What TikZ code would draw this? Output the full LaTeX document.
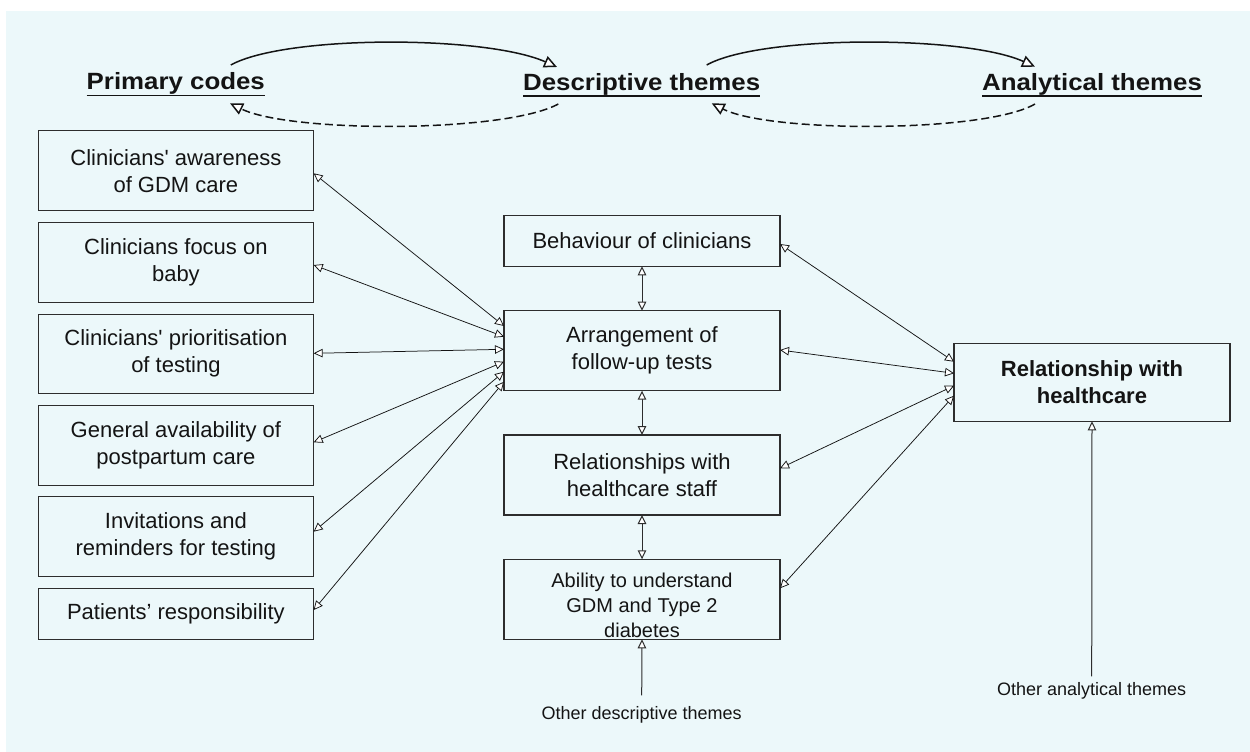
\documentclass[tikz,border=0pt]{standalone}
\usepackage{fontspec}
\setmainfont{Liberation Sans}
\usepackage{graphicx}
\usetikzlibrary{arrows.meta,calc}
\definecolor{bgc}{RGB}{236,248,250}
\definecolor{boxc}{RGB}{45,45,45}
\definecolor{inkc}{RGB}{20,20,20}
\begin{document}
\begin{tikzpicture}[x=1pt,y=-1pt,
  box/.style={draw=boxc, line width=1.1pt, inner sep=0pt, outer sep=0pt,
    minimum width=275.5pt, minimum height=80pt, align=center,
    font=\fontsize{22}{27}\selectfont, text=inkc},
  head/.style={inner sep=0pt, outer sep=0pt, anchor=base, text=inkc,
    font=\fontsize{23.5}{28}\selectfont\bfseries},
  small/.style={inner sep=0pt, outer sep=0pt, anchor=base, text=inkc,
    font=\fontsize{18}{22}\selectfont},
  tipA/.tip={Triangle[length=9pt,width=8.5pt,fill=white]},
  tipB/.tip={Triangle[length=13pt,width=12pt,fill=white]},
  thin/.style={line width=0.75pt, draw=inkc},
  dbl/.style={thin, tipA-tipA},
  vdbl/.style={line width=1pt, draw=boxc, tipA-tipA},
  uparr/.style={line width=1pt, draw=boxc, -tipA},
  arc/.style={line width=1.5pt, draw=inkc, -tipB},
  darc/.style={arc, dash pattern=on 8pt off 4pt},
  uline/.style={line width=1.5pt, draw=inkc}
]
\useasboundingbox (0,0) rectangle (1250,752);
\fill[white] (0,0) rectangle (1250,752);
\fill[bgc] (6,11) rectangle (1250,752);

% headers
\node[head] (pc) at (175.8,89.5) {\scalebox{1.1}[1]{Primary codes}};
\node[head] (dt) at (641.7,90) {\scalebox{1.1}[1]{Descriptive themes}};
\node[head] (at) at (1092,90) {\scalebox{1.1}[1]{Analytical themes}};
\draw[uline] ([yshift=-6pt]pc.base west) -- ([yshift=-6pt]pc.base east);
\draw[uline] ([yshift=-6pt]dt.base west) -- ([yshift=-6pt]dt.base east);
\draw[uline] ([yshift=-6pt]at.base west) -- ([yshift=-6pt]at.base east);

% top arcs
\draw[arc] ([xshift=55pt,yshift=24.5pt]pc.base) .. controls (285,35) and (485,35) .. ([xshift=-84.7pt,yshift=23pt]dt.base);
\draw[darc] ([xshift=-83.4pt,yshift=-14pt]dt.base) .. controls (505,133) and (290,133) .. ([xshift=54.2pt,yshift=-13.8pt]pc.base);
\draw[arc] ([xshift=65pt,yshift=25pt]dt.base) .. controls (760,35) and (965,35) .. ([xshift=-57pt,yshift=23.3pt]at.base);
\draw[darc] ([xshift=-57pt,yshift=-14pt]at.base) .. controls (985,133) and (770,133) .. ([xshift=70pt,yshift=-13.3pt]dt.base);

% left boxes
\node[box] (c1) at (175.9,170.7) {Clinicians\textquotesingle{} awareness\\of GDM care};
\node[box] (c2) at (175.9,262.3) {Clinicians focus on\\baby};
\node[box, minimum height=79.3pt] (c3) at (175.9,353.7) {Clinicians\textquotesingle{} prioritisation\\of testing};
\node[box] (c4) at (175.9,445.2) {General availability of\\postpartum care};
\node[box] (c5) at (175.9,536.8) {Invitations and\\reminders for testing};
\node[box, minimum height=51pt] (c6) at (175.9,613.8) {Patients’ responsibility};

% middle boxes
\node[box, minimum width=276pt, minimum height=50.6pt] (beh) at (642,241) {Behaviour of clinicians};
\node[box, minimum width=276pt] (arr) at (642,350.7) {Arrangement of\\follow-up tests};
\node[box, minimum width=276pt] (rel) at (642,475) {Relationships with\\healthcare staff};
\node[box, minimum width=276pt] (abil) at (642,599.3) {};
\node[inner sep=0pt, align=center, text=inkc, font=\fontsize{20}{25}\selectfont] (abiltxt) at (642,605) {Ability to understand\\GDM and Type 2\\diabetes};

% right box
\node[box, minimum width=276pt, minimum height=78.3pt, font=\fontsize{22}{26.6}\selectfont\bfseries] (rb) at (1092,382.2) {Relationship with\\healthcare};

% small labels
\node[small] (od) at (641.7,719.3) {Other descriptive themes};
\node[small] (oa) at (1091.7,695) {Other analytical themes};

% left connectors
\draw[dbl] ([yshift=-2.6pt]c1.east) -- ([yshift=24.7pt]arr.west);
\draw[dbl] ([yshift=-2.7pt]c2.east) -- ([yshift=14pt]arr.west);
\draw[dbl] ([yshift=0.4pt]c3.east) -- ([yshift=1.4pt]arr.west);
\draw[dbl] ([yshift=2.9pt]c4.east) -- ([yshift=-11pt]arr.west);
\draw[dbl] ([yshift=5.1pt]c5.east) -- ([yshift=-21pt]arr.west);
\draw[dbl] ([yshift=3.8pt]c6.east) -- ([yshift=-31pt]arr.west);

% right connectors
\draw[dbl] ([yshift=-3pt]beh.east) -- ([yshift=20.5pt]rb.west);
\draw[dbl] ([yshift=0.7pt]arr.east) -- ([yshift=8.9pt]rb.west);
\draw[dbl] ([yshift=6.7pt]rel.east) -- ([yshift=-3.5pt]rb.west);
\draw[dbl] ([yshift=11pt]abil.east) -- ([yshift=-13.5pt]rb.west);

% vertical connectors
\draw[vdbl] (beh.south) -- (arr.north);
\draw[vdbl] (arr.south) -- (rel.north);
\draw[vdbl] (rel.south) -- (abil.north);
\draw[uparr] ([yshift=11pt]od.north) -- (abil.south);
\draw[uparr] ([yshift=5.7pt]oa.north) -- (rb.south);
\end{tikzpicture}
\end{document}
